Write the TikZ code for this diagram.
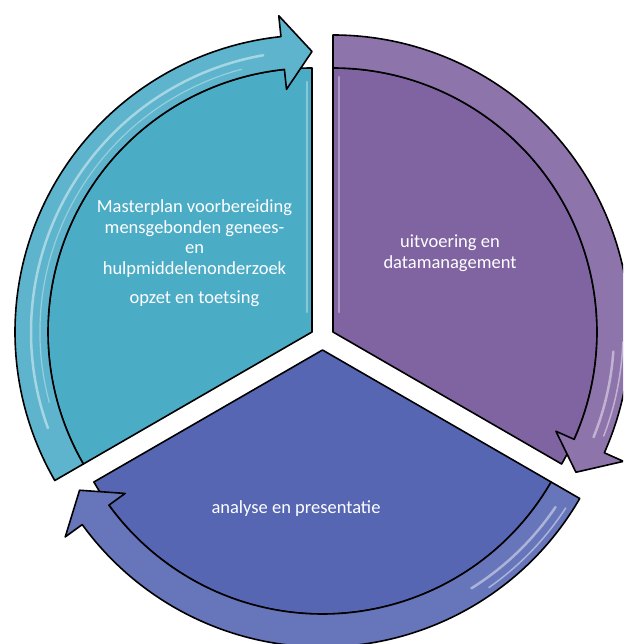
\documentclass[tikz,border=0pt]{standalone}
\usepackage{fontspec}
\setmainfont{Carlito}
\usepackage{tikz}
\definecolor{tealseg}{RGB}{75,172,198}
\definecolor{purpleseg}{RGB}{128,100,162}
\definecolor{blueseg}{RGB}{86,102,178}
\tikzstyle{slice}  = [
    draw,
    line width=1.6pt,
    line join=round
]
\tikzstyle{gloss}  = [
    white,
    opacity=0.45,
    line width=2.5pt,
    line cap=round
]
\tikzstyle{steplabel}  = [
    text=white,
    align=center,
    font=\fontsize{18.5}{20.5}\selectfont
]
\newcommand{\segin}{264pt}
\newcommand{\segout}{297pt}
% #1 vertex, #2 start angle of the slice, #3 colour
\newcommand{\cycleseg}[3]{%
  \draw[slice, fill=#3] (#1) -- ++(#2:\segin) arc[start angle=#2, delta angle=-120, radius=\segin] -- cycle;
  \draw[slice, fill=#3!90!white] ([shift={(#2:\segout)}]#1) arc[start angle=#2, delta angle=-114, radius=\segout]
      -- ([shift={(#2-114:318pt)}]#1) -- ([shift={(#2-120:280.5pt)}]#1) -- ([shift={(#2-114:244pt)}]#1)
      -- ([shift={(#2-114:\segin)}]#1) arc[start angle=#2-114, delta angle=114, radius=\segin] -- cycle;
}

\begin{document}
\begin{tikzpicture}[x=1pt, y=1pt]
\useasboundingbox (0,0) rectangle (623,644);
\clip (0,0) rectangle (623,644);

\coordinate (v1) at (312,312);
\coordinate (v2) at (333,312);
\coordinate (v3) at (322.5,294);

\cycleseg{v1}{210}{tealseg}
\cycleseg{v2}{90}{purpleseg}
\cycleseg{v3}{-30}{blueseg}

% highlights
\draw[gloss] ([shift={(200:281pt)}]v1) arc[start angle=200, end angle=100, radius=281pt];
\draw[gloss, line width=1.2pt, opacity=0.35] ([shift={(195:272pt)}]v1) arc[start angle=195, end angle=105, radius=272pt];
\draw[gloss, opacity=0.35] ([shift={(-5,20)}]v1) -- ([shift={(-5,250)}]v1);
\draw[gloss] ([shift={(-4:281pt)}]v2) arc[start angle=-4, end angle=-22, radius=281pt];
\draw[gloss, line width=1.5pt] ([shift={(-2:290pt)}]v2) arc[start angle=-2, end angle=-21, radius=290pt];
\draw[gloss, opacity=0.35] ([shift={(6,20)}]v2) -- ([shift={(6,255)}]v2);
\draw[gloss] ([shift={(-34:281pt)}]v3) arc[start angle=-34, end angle=-58, radius=281pt];
\draw[gloss, line width=1.5pt] ([shift={(-33:290pt)}]v3) arc[start angle=-33, end angle=-55, radius=290pt];

\node[steplabel] (t1) at (194.5,391) {Masterplan voorbereiding\\mensgebonden genees-\\en\\hulpmiddelenonderzoek\\[8.5pt]opzet en toetsing};
\node[steplabel] (t2) at (450,391) {uitvoering en\\datamanagement};
\node[steplabel] (t3) at (296,135) {analyse en presentatie};
\end{tikzpicture}
\end{document}
